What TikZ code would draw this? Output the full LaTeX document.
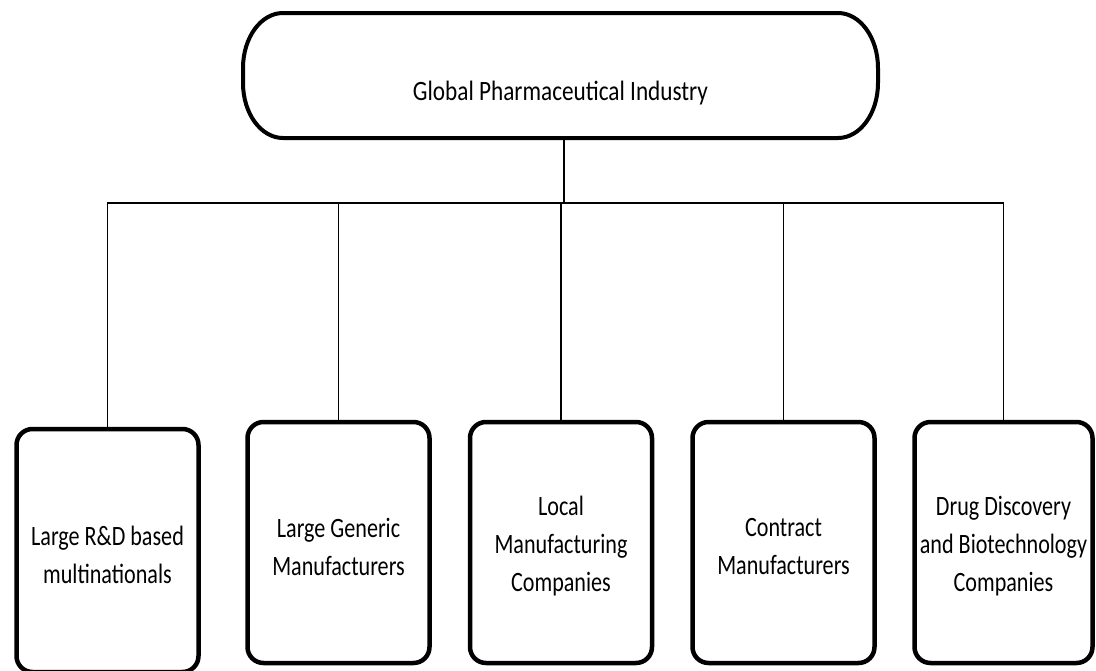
\documentclass[tikz,border=0pt]{standalone}
\usepackage{fontspec}
\setmainfont[FakeStretch=0.79]{Carlito}
\newfontfamily\titlefont[FakeStretch=0.83]{Carlito}
\begin{document}
\begin{tikzpicture}[x=1pt,y=-1pt,
  topbox/.style={line width=4pt,
    minimum width=631pt, minimum height=121pt, inner sep=0pt, align=center,
    font=\titlefont\fontsize{28}{38}\selectfont},
  leafbox/.style={draw=black, line width=4.5pt, rounded corners=16pt,
    minimum width=182pt, minimum height=241pt, inner sep=0pt},
  leaftext/.style={align=center, yshift=-4pt, inner sep=0pt,
    font=\fontsize{28}{38}\selectfont},
  outline/.style={draw=black, line width=4pt},
  link/.style={draw=black, line width=1.3pt}]
\useasboundingbox (0,0) rectangle (1096,670);

% root of the hierarchy, with elliptical corners
\node[topbox] (top) at (560.5,75.5)
  {\raisebox{-18pt}[\height][\depth]{Global Pharmaceutical Industry}};
\path[outline]
  ([xshift=40pt]top.north west) -- ([xshift=-40pt]top.north east)
  arc[start angle=90, end angle=0, x radius=40pt, y radius=55pt]
  -- ([yshift=55pt]top.south east)
  arc[start angle=0, end angle=-90, x radius=40pt, y radius=55pt]
  -- ([xshift=40pt]top.south west)
  arc[start angle=270, end angle=180, x radius=40pt, y radius=55pt]
  -- ([yshift=-55pt]top.north west)
  arc[start angle=180, end angle=90, x radius=40pt, y radius=55pt]
  -- cycle;

% the five industry segments
\node[leafbox, minimum height=243pt,
  label={[leaftext]center:Large R\&D based\\multinationals}] (b1) at (107.5,550.5) {};
\node[leafbox,
  label={[leaftext]center:Large Generic\\Manufacturers}] (b2) at (338.5,542.5) {};
\node[leafbox,
  label={[leaftext]center:Local\\Manufacturing\\Companies}] (b3) at (561,542.5) {};
\node[leafbox,
  label={[leaftext]center:Contract\\Manufacturers}] (b4) at (783.5,542.5) {};
\node[leafbox, minimum width=178pt,
  label={[leaftext]center:Drug Discovery\\and Biotechnology\\Companies}] (b5) at (1003.5,542.5) {};

% tree connectors through a horizontal bus
\coordinate (bus) at (564,203);
\draw[link] (top.south -| bus) -- (bus);
\draw[link] (bus) -| (b1.north);
\draw[link] (bus) -| (b2.north);
\draw[link] (bus) -| (b3.north);
\draw[link] (bus) -| (b4.north);
\draw[link] (bus) -| (b5.north);
\end{tikzpicture}
\end{document}
